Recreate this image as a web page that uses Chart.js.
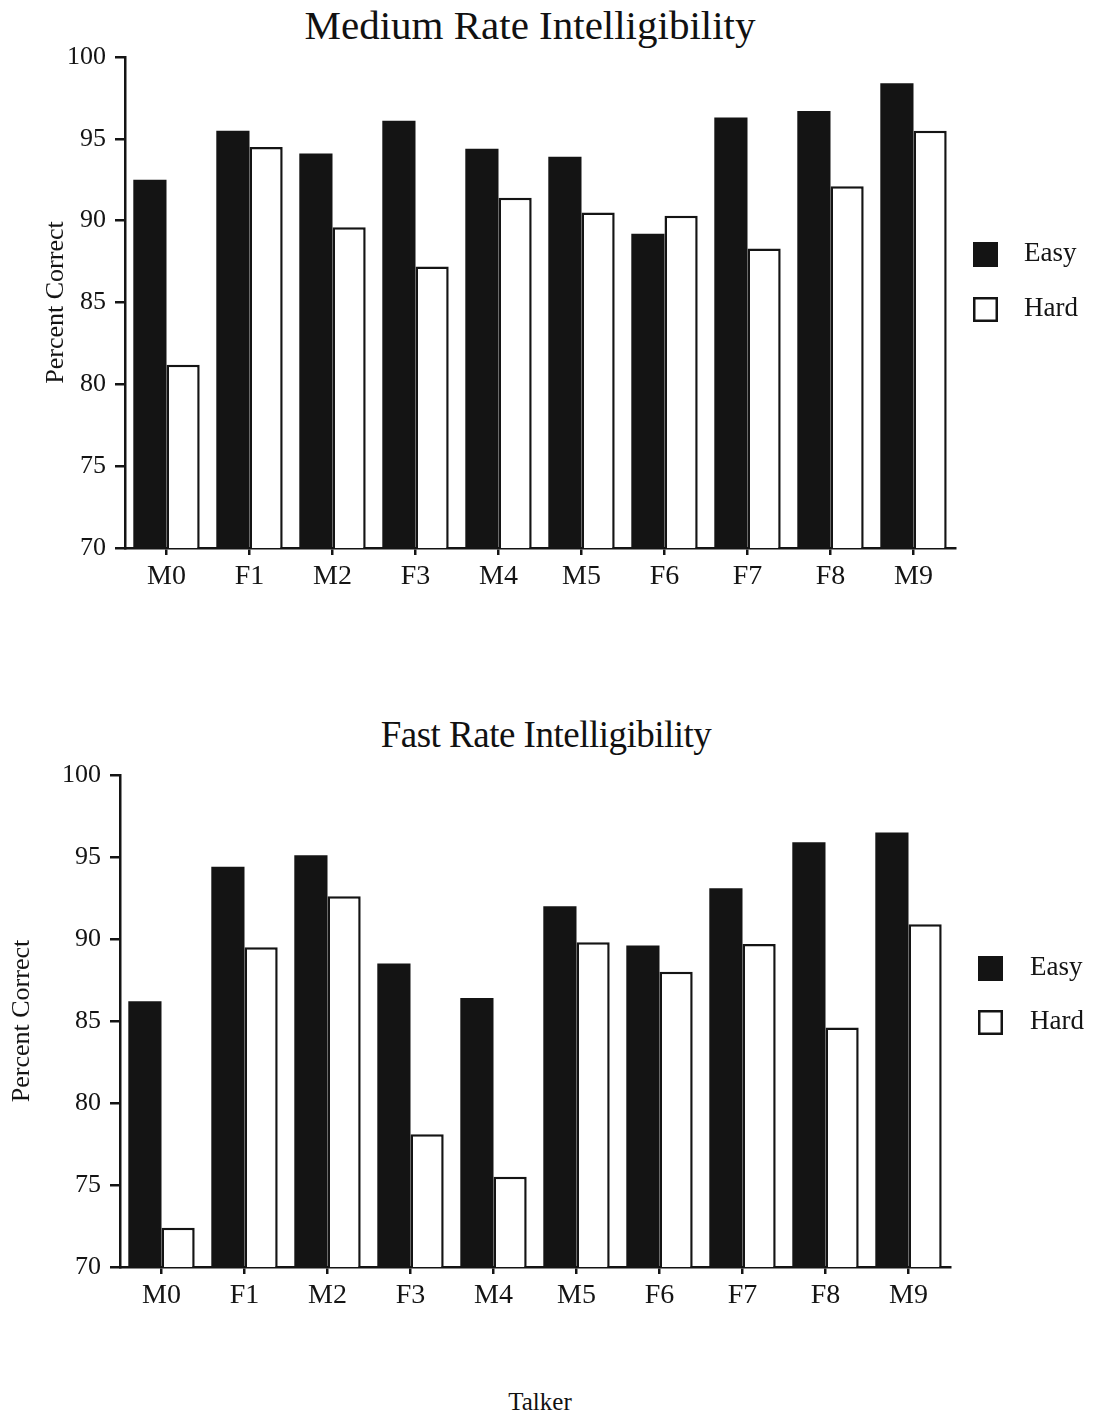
<!DOCTYPE html>
<html>
<head>
    <title>Medium and Fast Rate Intelligibility</title>
    <style>
        body { margin: 0; background-color: #ffffff; font-family: "Liberation Serif", "Times New Roman", serif; color: #111111; }
        .page { position: relative; width: 1095px; height: 1417px; overflow: hidden; }
        .title { position: absolute; left: 0; text-align: center; white-space: nowrap; }
        canvas { position: absolute; left: 0; }
    </style>
</head>
<body>
    <div class="page">
        <div class="title" style="top: 0px; width: 1060px; font-size: 41px; line-height: 50px;">Medium Rate Intelligibility</div>
        <canvas id="chart1" width="1095" height="620" style="top: 0;"></canvas>

        <div class="title" style="top: 712px; width: 1092px; font-size: 37px; line-height: 46px; letter-spacing: -0.5px;">Fast Rate Intelligibility</div>
        <canvas id="chart2" width="1095" height="640" style="top: 700px;"></canvas>

        <div class="title" style="top: 1387px; width: 1080px; font-size: 25px; line-height: 30px;">Talker</div>
    </div>

    <script src="https://cdn.jsdelivr.net/npm/chart.js"></script>
    <script>
        // values (percent correct)
        var talkers = ['M0', 'F1', 'M2', 'F3', 'M4', 'M5', 'F6', 'F7', 'F8', 'M9'];
        var mediumEasy = [92.5, 95.5, 94.1, 96.1, 94.4, 93.9, 89.2, 96.3, 96.7, 98.4];
        var mediumHard = [81.2, 94.5, 89.6, 87.2, 91.4, 90.5, 90.3, 88.3, 92.1, 95.5];
        var fastEasy = [86.2, 94.4, 95.1, 88.5, 86.4, 92.0, 89.6, 93.1, 95.9, 96.5];
        var fastHard = [72.4, 89.5, 92.6, 78.1, 75.5, 89.8, 88.0, 89.7, 84.6, 90.9];
        var yTicks = [70, 75, 80, 85, 90, 95, 100];

        var ink = '#141414';
        var serif = '"Liberation Serif", "Times New Roman", serif';

        // legend drawn to the right of the plot, taken from the datasets
        var sideLegend = {
            id: 'sideLegend',
            afterDraw: function (chart, args, opts) {
                var ctx = chart.ctx;
                var area = chart.chartArea;
                ctx.save();
                ctx.font = '27px ' + serif;
                ctx.textBaseline = 'middle';
                chart.data.datasets.forEach(function (ds, i) {
                    var bx = area.right + opts.boxX;
                    var by = area.top + opts.boxY + i * opts.gap;
                    ctx.fillStyle = ds.backgroundColor;
                    ctx.fillRect(bx, by, 25, 25);
                    ctx.lineWidth = 2.5;
                    ctx.strokeStyle = ink;
                    ctx.strokeRect(bx + 1.25, by + 1.25, 22.5, 22.5);
                    ctx.fillStyle = ink;
                    ctx.fillText(ds.label, area.right + opts.textX, by + 12);
                });
                ctx.restore();
            }
        };

        function makeChart(id, easy, hard, pad, yWidth, legendPos) {
            var ctx = document.getElementById(id).getContext('2d');
            return new Chart(ctx, {
                type: 'bar',
                data: {
                    labels: talkers,
                    datasets: [
                        { label: 'Easy', data: easy, backgroundColor: ink, borderColor: ink, borderWidth: 0,
                          categoryPercentage: 0.8, barPercentage: 1.0 },
                        { label: 'Hard', data: hard, backgroundColor: '#ffffff', borderColor: ink, borderWidth: 2.5,
                          categoryPercentage: 0.8, barPercentage: 1.0 }
                    ]
                },
                options: {
                    responsive: false,
                    animation: false,
                    layout: { padding: pad },
                    plugins: {
                        legend: { display: false },
                        tooltip: { enabled: false },
                        sideLegend: legendPos
                    },
                    scales: {
                        x: {
                            afterFit: function (s) { s.height = 50; },
                            border: { color: ink, width: 2.5 },
                            grid: { offset: false, drawOnChartArea: false, color: ink, lineWidth: 2.5, tickLength: 7 },
                            ticks: { color: ink, padding: 5, maxRotation: 0, font: { family: serif, size: 28 } }
                        },
                        y: {
                            min: 70,
                            max: 100,
                            afterFit: function (s) { s.width = yWidth; },
                            afterBuildTicks: function (s) { s.ticks = yTicks.map(function (v) { return { value: v }; }); },
                            border: { color: ink, width: 2.5 },
                            grid: { drawOnChartArea: false, color: ink, lineWidth: 2.5, tickLength: 10 },
                            ticks: { color: ink, padding: 9, font: { family: serif, size: 26 } },
                            title: { display: true, text: 'Percent Correct', color: ink, padding: 0,
                                     font: { family: serif, size: 26 } }
                        }
                    }
                },
                plugins: [sideLegend]
            });
        }

        makeChart('chart1', mediumEasy, mediumHard,
            { top: 57, left: 41, right: 140, bottom: 22 }, 84,
            { boxX: 18, boxY: 185, gap: 55, textX: 69 });

        makeChart('chart2', fastEasy, fastHard,
            { top: 75, left: 7, right: 145, bottom: 23 }, 113,
            { boxX: 28, boxY: 181, gap: 54, textX: 80 });
    </script>
</body>
</html>
